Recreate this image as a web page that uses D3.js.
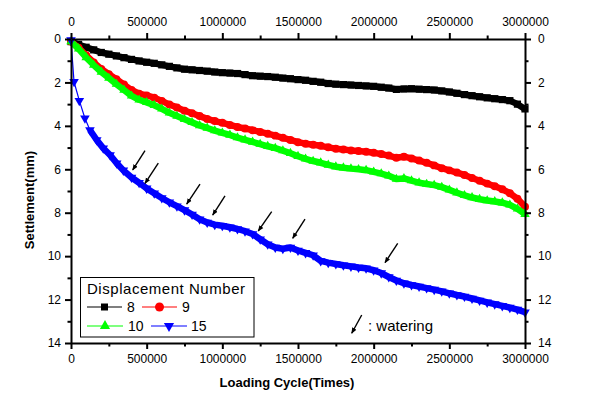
<!DOCTYPE html>
<html><head><meta charset="utf-8">
<script src="https://cdn.jsdelivr.net/npm/d3@7"></script>
<style>
body{margin:0;background:#fff}
svg{display:block;font-family:"Liberation Sans",Arial,sans-serif}
</style>
</head><body>
<svg id="chart" width="591" height="403"></svg>
<script>
// ---------- DATA ----------
const cycleGrid = [0,50000,100000,150000,200000,250000,300000,350000,400000,450000,
  500000,550000,600000,650000,700000,750000,800000,850000,900000,950000,
  1000000,1050000,1100000,1150000,1200000,1250000,1300000,1350000,1400000,1450000,
  1500000,1550000,1600000,1650000,1700000,1750000,1800000,1850000,1900000,1950000,
  2000000,2050000,2100000,2150000,2200000,2250000,2300000,2350000,2400000,2450000,
  2500000,2550000,2600000,2650000,2700000,2750000,2800000,2850000,2900000,2950000,3000000];

const settle8 = [0.12,0.25,0.38,0.50,0.62,0.70,0.78,0.86,0.94,1.01,
  1.07,1.12,1.19,1.26,1.33,1.39,1.42,1.45,1.48,1.52,
  1.55,1.57,1.59,1.64,1.69,1.71,1.73,1.76,1.80,1.83,
  1.87,1.90,1.95,1.99,2.05,2.08,2.10,2.12,2.14,2.16,
  2.18,2.22,2.26,2.32,2.30,2.29,2.31,2.33,2.35,2.39,
  2.44,2.50,2.56,2.61,2.66,2.71,2.75,2.79,2.84,3.00,3.22];

const settle9 = [0.12,0.40,0.75,1.08,1.38,1.62,1.85,2.10,2.35,2.52,
  2.60,2.70,2.85,3.02,3.15,3.30,3.42,3.55,3.68,3.78,
  3.86,3.96,4.05,4.12,4.20,4.28,4.36,4.45,4.55,4.65,
  4.75,4.82,4.87,4.92,4.99,5.05,5.09,5.13,5.16,5.19,
  5.24,5.30,5.37,5.47,5.42,5.50,5.60,5.70,5.82,5.95,
  6.05,6.15,6.26,6.40,6.53,6.66,6.78,6.92,7.10,7.36,7.72];

const settle10 = [0.12,0.45,0.85,1.20,1.52,1.80,2.08,2.35,2.62,2.80,
  2.92,3.05,3.22,3.40,3.55,3.70,3.84,3.98,4.10,4.22,
  4.32,4.42,4.54,4.64,4.74,4.84,4.94,5.03,5.14,5.26,
  5.40,5.52,5.62,5.70,5.80,5.88,5.93,5.97,6.00,6.04,
  6.12,6.20,6.30,6.45,6.42,6.52,6.62,6.68,6.73,6.82,
  6.95,7.08,7.20,7.30,7.38,7.44,7.48,7.54,7.64,7.82,8.07];

const cycles15 = [0,20000,55000,92000,125000,170000,213000,258000,302000,346000,
  400000,450000,500000,550000,600000,650000,700000,750000,800000,850000,
  900000,950000,1000000,1050000,1100000,1150000,1200000,1250000,1300000,1350000,
  1400000,1450000,1500000,1550000,1600000,1650000,1700000,1750000,1800000,1850000,
  1900000,1950000,2000000,2050000,2100000,2150000,2200000,2250000,2300000,2350000,
  2400000,2450000,2500000,2550000,2600000,2650000,2700000,2750000,2800000,2850000,
  2900000,2950000,3000000];

const settle15 = [0.05,1.97,2.84,3.65,4.19,4.65,5.03,5.34,5.72,6.05,
  6.38,6.62,6.88,7.10,7.32,7.52,7.70,7.88,8.08,8.30,
  8.45,8.55,8.60,8.67,8.75,8.85,8.98,9.22,9.45,9.60,
  9.66,9.60,9.74,9.85,9.96,10.22,10.30,10.36,10.42,10.47,
  10.52,10.56,10.65,10.78,10.96,11.12,11.25,11.33,11.40,11.47,
  11.54,11.62,11.71,11.79,11.86,11.95,12.04,12.13,12.21,12.29,
  12.37,12.46,12.58];

const seriesNames = ["8","9","10","15"];
const seriesColors = ["#000000","#ff0000","#00ff00","#0000ff"];

const xTickValues = [0,500000,1000000,1500000,2000000,2500000,3000000];
const xMinorValues = [250000,750000,1250000,1750000,2250000,2750000];
const yTickValues = [0,2,4,6,8,10,12,14];
const yMinorValues = [1,3,5,7,9,11,13];

// watering arrows (tail -> tip), in data units
const arrowTails = [[489000,5.14],[576900,5.72],[852400,6.68],[1017600,7.22],[1326200,7.95],[1546200,8.29],[2158800,9.41]];
const arrowTips  = [[407700,6.03],[489000,6.65],[764500,7.60],[936300,8.11],[1237700,8.84],[1464900,9.18],[2074900,10.30]];
const keyArrowTail = [1921000,12.71];
const keyArrowTip = [1855000,13.55];

// ---------- CHART ----------
const svg = d3.select("#chart");
const x = d3.scaleLinear().domain([0,3000000]).range([71,525]);
const y = d3.scaleLinear().domain([0,14]).range([39,343]);
const fmt = d3.format("d");

svg.append("defs").append("marker")
  .attr("id","ah").attr("viewBox","0 0 10 10").attr("refX",9).attr("refY",5)
  .attr("markerWidth",6).attr("markerHeight",6).attr("markerUnits","userSpaceOnUse")
  .attr("orient","auto")
  .append("path").attr("d","M0,1 L10,5 L0,9 Z").attr("fill","#000");

function styleAxis(g, fs){
  g.select(".domain").attr("stroke","#000").attr("stroke-width",2);
  g.selectAll(".tick line").attr("stroke","#000").attr("stroke-width",2);
  g.selectAll(".tick text").attr("fill","#000").style("font-size",fs+"px")
    .style("font-family",'"Liberation Sans",Arial,sans-serif');
}
function minor(axis){ return axis.tickSize(3.5).tickFormat("").tickSizeOuter(0); }

// series (drawn first, axes on top)
const symbols = [
  d3.symbol().type(d3.symbolSquare).size(52),
  d3.symbol().type(d3.symbolCircle).size(50),
  d3.symbol().type(d3.symbolTriangle).size(38),
  d3.symbol().type(d3.symbolTriangle).size(40)
];
const rotations = [0,0,0,180];
const bandStart = [0,0,0,4];
const seriesData = [
  cycleGrid.map((c,i)=>[c,settle8[i]]),
  cycleGrid.map((c,i)=>[c,settle9[i]]),
  cycleGrid.map((c,i)=>[c,settle10[i]]),
  cycles15.map((c,i)=>[c,settle15[i]])
];
const line = d3.line().x(d=>x(d[0])).y(d=>y(d[1]));
const plot = svg.append("g");
seriesData.forEach((data,k)=>{
  const g = plot.append("g");
  g.append("path").attr("d",line(data)).attr("fill","none")
    .attr("stroke",seriesColors[k]).attr("stroke-width",1.2);
  g.append("path").attr("d",line(data.slice(bandStart[k]))).attr("fill","none")
    .attr("stroke",seriesColors[k]).attr("stroke-width",6.5).attr("stroke-linejoin","round");
  g.selectAll("path.m").data(data).enter().append("path").attr("class","m")
    .attr("d",symbols[k]).attr("fill",seriesColors[k])
    .attr("transform",d=>`translate(${x(d[0])},${y(d[1])}) rotate(${rotations[k]})`);
});

// bottom
svg.append("g").attr("transform","translate(0,343)")
  .call(d3.axisBottom(x).tickValues(xTickValues).tickFormat(fmt).tickSize(6).tickSizeOuter(0).tickPadding(5))
  .call(g=>styleAxis(g,12));
svg.append("g").attr("transform","translate(0,343)")
  .call(minor(d3.axisBottom(x).tickValues(xMinorValues)))
  .call(g=>{styleAxis(g,12); g.select(".domain").remove();});
// top
svg.append("g").attr("transform","translate(0,39)")
  .call(d3.axisTop(x).tickValues(xTickValues).tickFormat(fmt).tickSize(6).tickSizeOuter(0).tickPadding(7))
  .call(g=>styleAxis(g,12));
svg.append("g").attr("transform","translate(0,39)")
  .call(minor(d3.axisTop(x).tickValues(xMinorValues)))
  .call(g=>{styleAxis(g,12); g.select(".domain").remove();});
// left
svg.append("g").attr("transform","translate(71,0)")
  .call(d3.axisLeft(y).tickValues(yTickValues).tickSize(6).tickSizeOuter(0).tickPadding(4))
  .call(g=>styleAxis(g,12));
svg.append("g").attr("transform","translate(71,0)")
  .call(minor(d3.axisLeft(y).tickValues(yMinorValues)))
  .call(g=>{styleAxis(g,12); g.select(".domain").remove();});
// right
svg.append("g").attr("transform","translate(525,0)")
  .call(d3.axisRight(y).tickValues(yTickValues).tickSize(6).tickSizeOuter(0).tickPadding(7))
  .call(g=>styleAxis(g,12));
svg.append("g").attr("transform","translate(525,0)")
  .call(minor(d3.axisRight(y).tickValues(yMinorValues)))
  .call(g=>{styleAxis(g,12); g.select(".domain").remove();});

// axis titles
svg.append("text").attr("x",287).attr("y",387).attr("text-anchor","middle")
  .style("font-size","13px").style("font-weight","bold").text("Loading Cycle(Times)");
svg.append("text").attr("transform","translate(34,200) rotate(-90)").attr("text-anchor","middle")
  .style("font-size","13px").style("font-weight","bold").text("Settlement(mm)");

// watering arrows
arrowTails.forEach((t,i)=>{
  svg.append("line").attr("x1",x(t[0])).attr("y1",y(t[1]))
    .attr("x2",x(arrowTips[i][0])).attr("y2",y(arrowTips[i][1]))
    .attr("stroke","#000").attr("stroke-width",1.4).attr("marker-end","url(#ah)");
});
svg.append("line").attr("x1",x(keyArrowTail[0])).attr("y1",y(keyArrowTail[1]))
  .attr("x2",x(keyArrowTip[0])).attr("y2",y(keyArrowTip[1]))
  .attr("stroke","#000").attr("stroke-width",1.4).attr("marker-end","url(#ah)");
svg.append("text").attr("x",368).attr("y",331).style("font-size","15px").text(": watering");

// legend
const lg = svg.append("g");
lg.append("rect").attr("x",80.5).attr("y",277.5).attr("width",173.5).attr("height",59.5)
  .attr("fill","#fff").attr("stroke","#000").attr("stroke-width",1);
lg.append("text").attr("x",87).attr("y",294).style("font-size","15px")
  .attr("textLength",158).attr("lengthAdjust","spacing").text("Displacement Number");
const legendItems = [
  {k:0,x1:87,x2:122,tx:127,yy:307},
  {k:1,x1:142,x2:177,tx:182,yy:307},
  {k:2,x1:87,x2:123,tx:128,yy:326},
  {k:3,x1:151,x2:187,tx:191,yy:326}
];
const legendSymbols = [
  d3.symbol().type(d3.symbolSquare).size(49),
  d3.symbol().type(d3.symbolCircle).size(64),
  d3.symbol().type(d3.symbolTriangle).size(45),
  d3.symbol().type(d3.symbolTriangle).size(45)
];
legendItems.forEach(it=>{
  lg.append("line").attr("x1",it.x1).attr("x2",it.x2).attr("y1",it.yy).attr("y2",it.yy)
    .attr("stroke",seriesColors[it.k]).attr("stroke-width",1.2);
  lg.append("path").attr("d",legendSymbols[it.k]).attr("fill",seriesColors[it.k])
    .attr("transform",`translate(${(it.x1+it.x2)/2},${it.yy}) rotate(${rotations[it.k]})`);
  lg.append("text").attr("x",it.tx).attr("y",it.yy+5).style("font-size","14px").text(seriesNames[it.k]);
});
</script>
</body></html>
